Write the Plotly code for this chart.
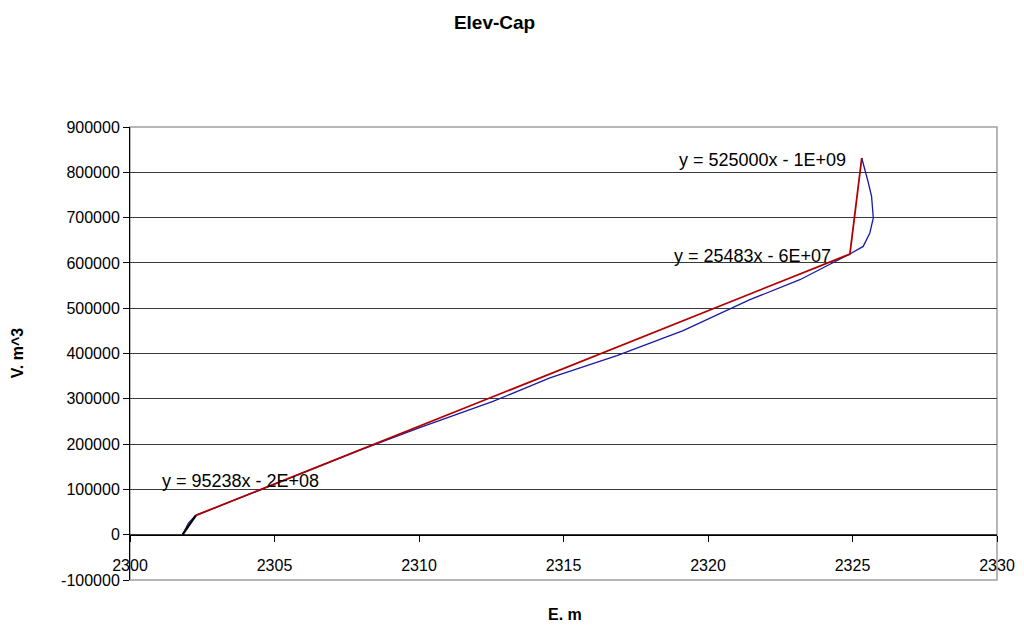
import plotly.graph_objects as go

# Observed elevation-capacity data (blue)
elev = [2301.82, 2302.02, 2302.28, 2305.0, 2308.0, 2310.0, 2312.56, 2314.53, 2316.85,
        2319.14, 2321.45, 2323.18, 2324.57, 2324.91, 2325.37, 2325.60, 2325.72,
        2325.66, 2325.55, 2325.32]
vol = [0, 25800, 42600, 112000, 188000, 236000, 294300, 346000, 395100,
       450300, 518800, 562900, 607000, 619600, 636400, 666000, 699100,
       746800, 776400, 831600]

# Trendline segments
t1_x = [2301.82, 2302.28]
t1_y = [0, 42600]
t2_x = [2302.28, 2324.91, 2325.32]
t2_y = [42600, 619600, 831600]

eq_labels = ["y = 95238x - 2E+08", "y = 25483x - 6E+07", "y = 525000x - 1E+09"]
eq_x = [2303.81, 2321.54, 2321.90]
eq_y = [119000, 616000, 828000]

x_ticks = [2300, 2305, 2310, 2315, 2320, 2325, 2330]
y_ticks = [-100000, 0, 100000, 200000, 300000, 400000, 500000, 600000, 700000, 800000, 900000]
y_ticktext = [str(v) for v in y_ticks]

FONT = "Liberation Sans, Arial, sans-serif"

fig = go.Figure()
fig.add_trace(go.Scatter(x=elev, y=vol, mode="lines",
                         line=dict(color="#1a1aa0", width=1.3), showlegend=False))
fig.add_trace(go.Scatter(x=t1_x, y=t1_y, mode="lines",
                         line=dict(color="#000000", width=2.2), showlegend=False))
fig.add_trace(go.Scatter(x=t2_x, y=t2_y, mode="lines",
                         line=dict(color="#b00000", width=1.8), showlegend=False))

for txt, xx, yy in zip(eq_labels, eq_x, eq_y):
    fig.add_annotation(x=xx, y=yy, text=txt, showarrow=False, xanchor="center",
                       yanchor="middle", font=dict(family=FONT, size=18, color="#000"))

fig.update_layout(
    width=1024, height=628,
    margin=dict(l=130, r=27, t=127, b=48, autoexpand=False),
    paper_bgcolor="white", plot_bgcolor="white",
    font=dict(family=FONT, size=16, color="#000"),
    title=dict(text="<b>Elev-Cap</b>", x=0.483, xanchor="center", y=0.965,
               yanchor="middle", font=dict(family=FONT, size=19, color="#000")),
    xaxis=dict(range=[2300, 2330], tickvals=x_ticks, ticks="outside", ticklen=6,
               tickcolor="#000", showline=True, linecolor="#000", linewidth=1,
               showgrid=False, zeroline=False, anchor="free", position=0.1,
               ticklabeloverflow="allow", automargin=False, ticklabelstandoff=10,
               tickfont=dict(family=FONT, size=16, color="#000")),
    yaxis=dict(range=[-100000, 900000], tickmode="array", tickvals=y_ticks,
               ticktext=y_ticktext, ticks="outside", ticklen=6, tickcolor="#000",
               showline=True, linecolor="#000", linewidth=1, showgrid=True,
               gridcolor="#3a3a3a", gridwidth=1, zeroline=False, automargin=False,
               tickfont=dict(family=FONT, size=16, color="#000")),
)

# plot-area border (gray)
fig.add_shape(type="rect", xref="paper", yref="paper", x0=0, y0=0, x1=1, y1=1,
              line=dict(color="#a0a0a0", width=1.5), layer="below")

fig.add_annotation(text="<b>E. m</b>", xref="paper", yref="paper", x=0.502, y=-0.077,
                   xanchor="center", yanchor="middle", showarrow=False,
                   font=dict(family=FONT, size=16, color="#000"))
fig.add_annotation(text="<b>V. m^3</b>", xref="paper", yref="paper", x=-0.130, y=0.501,
                   xanchor="center", yanchor="middle", showarrow=False, textangle=-90,
                   font=dict(family=FONT, size=16, color="#000"))

fig.write_html("out.html", config={"displayModeBar": False},
               post_script="document.body.style.margin='0px';")
